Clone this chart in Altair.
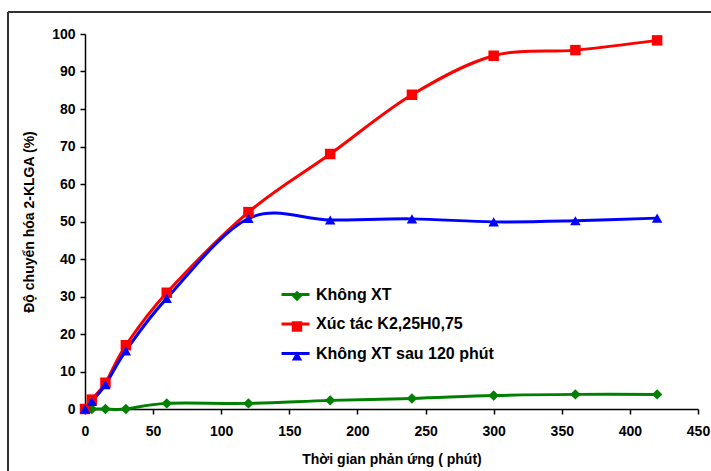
import altair as alt
import pandas as pd

# ---- data ----
times = [0, 5, 15, 30, 60, 120, 180, 240, 300, 360, 420]
khong_xt = [0, 0, 0, 0, 1.5, 1.5, 2.3, 2.8, 3.6, 3.9, 3.9]
xuc_tac = [0, 2.5, 7, 17, 31, 52.5, 68, 83.8, 94.2, 95.7, 98.3]
khong_xt_120 = [0, 2, 6.5, 15.5, 29.5, 50.8, 50.4, 50.7, 49.9, 50.2, 50.9]

series_names = ["Không XT", "Xúc tác K2,25H0,75", "Không XT sau 120 phút"]
series_colors = ["#008000", "#FF0000", "#0000FF"]
series_shapes = ["diamond", "square", "triangle-up"]

x_ticks = list(range(0, 451, 50))
y_ticks = list(range(0, 101, 10))

rows = []
for name, vals in zip(series_names, [khong_xt, xuc_tac, khong_xt_120]):
    for t, v in zip(times, vals):
        rows.append({"series": name, "line_series": name, "time": t, "value": v})
df = pd.DataFrame(rows)

FONT = "Liberation Sans"
W, H = 613, 375
LEG_X = 195
LEG_Y = 245

x_enc = alt.X("time:Q", scale=alt.Scale(domain=[0, 450], nice=False),
              axis=alt.Axis(values=x_ticks, title="Thời gian phản ứng ( phút)",
                            titlePadding=14, labelPadding=10, labelFlush=False))
y_enc = alt.Y("value:Q", scale=alt.Scale(domain=[0, 100], nice=False),
              axis=alt.Axis(values=y_ticks, title="Độ chuyển hóa 2-KLGA (%)",
                            titlePadding=15, labelPadding=5, labelFlush=False))

# line scale: domain from the data (sorted), so it is not merged with the marker legend
stroke_scale = alt.Scale(range=series_colors)
base = alt.Chart(df)

line_legend = alt.Legend(orient="none", legendX=LEG_X, legendY=LEG_Y, title=None,
                         symbolType="stroke", symbolSize=784, symbolStrokeWidth=3,
                         labelFontSize=16, labelFont=FONT, labelFontWeight="bold",
                         labelColor="#000000", labelOffset=5, rowPadding=5.5,
                         labelLimit=400, padding=0)

line_layers = []
for i, name in enumerate(series_names):
    stroke_kwargs = dict(scale=stroke_scale, sort=series_names)
    if i == 0:
        stroke_kwargs["legend"] = line_legend
    line_layers.append(
        base.transform_filter(alt.datum.series == name)
        .mark_line(interpolate="cardinal", tension=0, strokeWidth=3)
        .encode(x=x_enc, y=y_enc, stroke=alt.Stroke("line_series:N", **stroke_kwargs))
    )

# marker-only legend drawn over the line legend (its labels are empty)
pt_legend = alt.Legend(orient="none", legendX=LEG_X + 9, legendY=LEG_Y + 9, title=None,
                       symbolSize=110, labelFontSize=16, labelExpr="''",
                       labelFont=FONT, rowPadding=12.5, padding=0)
points = base.mark_point(filled=True, opacity=1, size=110).encode(
    x=x_enc, y=y_enc,
    fill=alt.Fill("series:N", scale=alt.Scale(domain=series_names, range=series_colors),
                  legend=pt_legend),
    shape=alt.Shape("series:N", scale=alt.Scale(domain=series_names, range=series_shapes),
                    legend=pt_legend),
)

frame_top = base.mark_rule(color="#333333", strokeWidth=1.5).encode(
    x=alt.value(-77), x2=alt.value(W + 20), y=alt.value(-22))
frame_left = base.mark_rule(color="#333333", strokeWidth=1.5).encode(
    x=alt.value(-77), y=alt.value(-22), y2=alt.value(H + 70))

chart = alt.layer(frame_top, frame_left, *line_layers, points).properties(
    width=W, height=H,
    autosize=alt.AutoSizeParams(type="none"),
    padding={"left": 85, "top": 34, "right": 13, "bottom": 62},
    background="white",
).configure_view(stroke=None).configure_axis(
    grid=False, domainColor="#000000", domainWidth=1.5, tickColor="#000000",
    tickWidth=1.5, tickSize=5, labelFont=FONT, labelFontSize=14,
    labelFontWeight="bold", labelColor="#000000", titleFont=FONT,
    titleFontSize=14, titleFontWeight="bold", titleColor="#000000",
)

chart.save("out.html", embed_options={"renderer": "svg", "actions": False})
